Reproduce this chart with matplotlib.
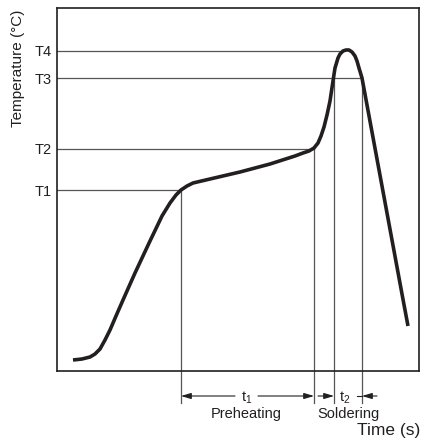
import matplotlib
matplotlib.use("Agg")
import matplotlib.pyplot as plt

plt.rcParams['font.family'] = ['Liberation Sans', 'DejaVu Sans']
plt.rcParams['mathtext.fontset'] = 'custom'
plt.rcParams['mathtext.rm'] = 'Liberation Sans'
plt.rcParams['mathtext.it'] = 'Liberation Sans'
plt.rcParams['mathtext.default'] = 'regular'

# Reflow profile (arbitrary units)
time = [16, 25, 33, 38, 43, 48, 53, 59, 66, 78, 93, 105, 113, 119, 124, 130, 136,
        153, 183, 213, 238, 246, 252, 257, 261, 264, 267, 270, 273, 276, 278, 281,
        283, 286, 289, 292, 295, 298, 300, 302, 305, 315, 325, 335, 345, 351]
temp = [11, 12, 14, 17, 22, 31, 41, 55, 71, 98, 130, 155, 168, 176, 181, 185, 188,
        192, 199, 207, 215, 218, 220, 223, 228, 235, 244, 256, 270, 290, 303, 313,
        317, 320, 321, 321, 319, 315, 310, 303, 293, 239, 185, 131, 77, 45]

level_labels = ['T1', 'T2', 'T3', 'T4']
levels = [181, 222, 293, 320]
level_ends = [124, 257, 305, 286]   # where the horizontal guide meets the curve

marks = [124, 257, 277, 305]        # vertical guides (time)
mark_tops = [181, 222, 293, 293]

fig = plt.figure(figsize=(4.22, 4.42), dpi=100)
W, H = 422, 442
ax = fig.add_axes([57 / W, (H - 371) / H, (419 - 57) / W, (371 - 8) / H])
ax.set_xlim(0, 362)
ax.set_ylim(0, 363)
for s in ax.spines.values():
    s.set_linewidth(1.2)
    s.set_color('#231f20')

guide = dict(color='#555555', lw=0.9)

# horizontal guides
for lv, xe in zip(levels, level_ends):
    ax.plot([0, xe], [lv, lv], **guide, zorder=2)
ax.set_yticks(levels)
ax.set_yticklabels(level_labels, fontsize=10.5)
ax.tick_params(axis='y', length=0, pad=4, colors='#231f20')
ax.set_xticks([])

# vertical guides extending below the axes
bottom = -32
for xm, top in zip(marks, mark_tops):
    ax.plot([xm, xm], [top, bottom], **guide, clip_on=False, zorder=2)

# curve
ax.plot(time, temp, color='#231f20', lw=2.6, solid_joinstyle='round',
        solid_capstyle='butt', zorder=3)

# arrows
ya = -25
ap = dict(arrowstyle='-|>,head_length=0.6,head_width=0.18', color='#231f20',
          lw=0.8, shrinkA=0, shrinkB=0)
ax.annotate('', xy=(marks[0], ya), xytext=(178, ya), arrowprops=ap,
            annotation_clip=False)
ax.annotate('', xy=(marks[1], ya), xytext=(201, ya), arrowprops=ap,
            annotation_clip=False)
ax.annotate('', xy=(marks[2], ya), xytext=(261, ya), arrowprops=ap,
            annotation_clip=False)
ax.annotate('', xy=(marks[3], ya), xytext=(320, ya), arrowprops=ap,
            annotation_clip=False)
ax.plot([300, marks[3]], [ya, ya], color='#231f20', lw=0.8, clip_on=False)

ax.text(190, -27, 't$_1$', fontsize=10.5, ha='center', va='center', color='#231f20')
ax.text(288, -27, 't$_2$', fontsize=10.5, ha='center', va='center', color='#231f20')
ax.text(189, -43, 'Preheating', fontsize=10.5, ha='center', va='center', color='#231f20')
ax.text(291, -43, 'Soldering', fontsize=10.5, ha='center', va='center', color='#231f20')
ax.text(363, -60, 'Time (s)', fontsize=12.5, ha='right', va='center', color='#231f20')
ax.text(-38.5, 303, 'Temperature (°C)', fontsize=11, rotation=90,
        ha='center', va='center', color='#231f20')

fig.savefig('out.png', dpi=100)
